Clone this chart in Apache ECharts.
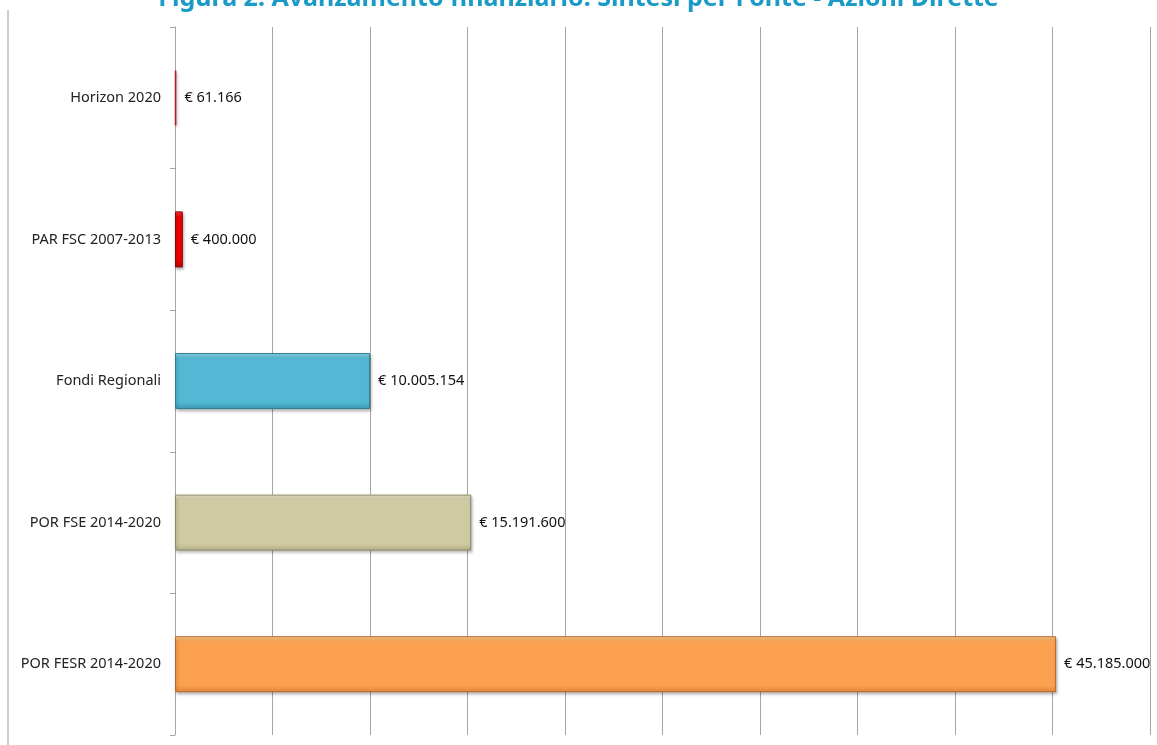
<!DOCTYPE html>
<html><head><meta charset="utf-8">
<script src="https://cdn.jsdelivr.net/npm/echarts@6/dist/echarts.min.js"></script>
<style>html,body{margin:0;padding:0;background:#fff}#c{width:1157px;height:745px}</style>
</head><body><div id="c"></div>
<script>
const categories = ["Horizon 2020", "PAR FSC 2007-2013", "Fondi Regionali", "POR FSE 2014-2020", "POR FESR 2014-2020"];
const values = [61166, 400000, 10005154, 15191600, 45185000];
const valueLabels = ["€ 61.166", "€ 400.000", "€ 10.005.154", "€ 15.191.600", "€ 45.185.000"];
const titleText = "Figura 2. Avanzamento finanziario: Sintesi per Fonte - Azioni Dirette";

const palette = [
  {top:"#e85055", mid:"#c8242a", bot:"#a01a1e", border:"#b8181e"},
  {top:"#ff4040", mid:"#ee0000", bot:"#b80000", border:"#900000"},
  {top:"#9adcef", mid:"#52b8d3", bot:"#3c9ab4", border:"#2f7f94"},
  {top:"#eeeacc", mid:"#cfcaa4", bot:"#b3ae88", border:"#8f8a68"},
  {top:"#ffd590", mid:"#fba04e", bot:"#e0853a", border:"#b8692a"}
];
function grad(p){
  return {type:'linear',x:0,y:0,x2:0,y2:1,colorStops:[
    {offset:0,color:p.top},{offset:0.1,color:p.mid},{offset:0.88,color:p.mid},{offset:1,color:p.bot}]};
}
const data = values.map((v,i)=>({value:v,itemStyle:{color:grad(palette[i]),borderColor:palette[i].border,borderWidth:i===0?1.6:1}}));

const chart = echarts.init(document.getElementById('c'));
chart.setOption({
  animation:false,
  backgroundColor:'#fff',
  title:{text:titleText,left:'center',top:-19,textStyle:{fontFamily:'Noto Sans',fontWeight:'bold',fontSize:25,color:'#1a9ac6'}},
  grid:{left:175,right:7,top:27,bottom:10,containLabel:false},
  xAxis:{type:'value',min:0,max:50000000,interval:5000000,
    axisLabel:{show:false},axisLine:{show:false},axisTick:{show:false},
    splitLine:{show:true,lineStyle:{color:'#a6a6a6',width:1}}},
  yAxis:{type:'category',data:categories,inverse:true,
    axisLine:{show:true,lineStyle:{color:'#a6a6a6'}},
    axisTick:{show:true,length:5,lineStyle:{color:'#a6a6a6'}},
    axisLabel:{margin:14,fontFamily:'Noto Sans',fontSize:14.5,color:'#222'}},
  series:[{type:'bar',data:data,barWidth:56,
    itemStyle:{shadowColor:'rgba(0,0,0,0.3)',shadowBlur:3,shadowOffsetX:1,shadowOffsetY:2},
    label:{show:true,position:'right',distance:8,fontFamily:'Noto Sans',fontSize:14.5,color:'#111',
      formatter:p=>valueLabels[p.dataIndex]}}],
  graphic:[{type:'line',shape:{x1:8,y1:10,x2:8,y2:745},style:{stroke:'#9a9a9a',lineWidth:1}}]
});
</script></body></html>
